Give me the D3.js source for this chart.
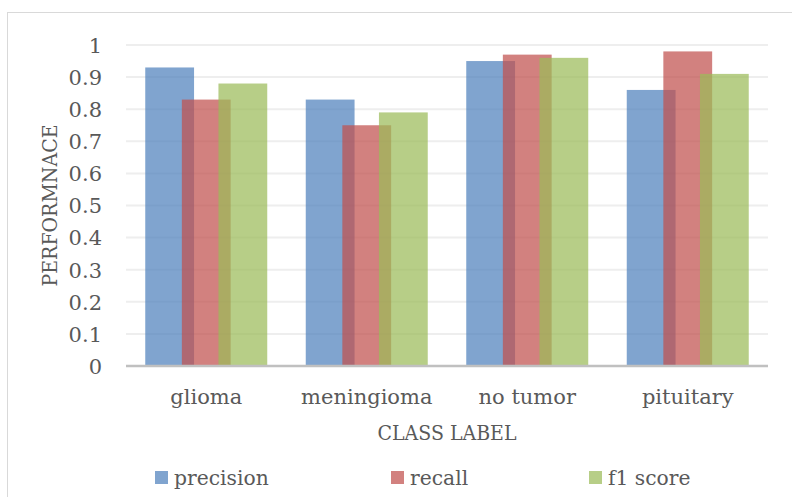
<!DOCTYPE html>
<html>
<head>
<meta charset="utf-8">
<script src="https://cdn.jsdelivr.net/npm/d3@7"></script>
<style>
  html, body { margin: 0; padding: 0; background: #fff; }
  svg { display: block; }
  text { font-family: "DejaVu Serif", serif; fill: #595959; }
</style>
</head>
<body>
<svg id="chart" width="792" height="497"></svg>
<script>
// Per-class scores of the brain tumour classifier
const categories = ["glioma", "meningioma", "no tumor", "pituitary"];
const seriesNames = ["precision", "recall", "f1 score"];
const precision = [0.93, 0.83, 0.95, 0.86];
const recall    = [0.83, 0.75, 0.97, 0.98];
const f1Score   = [0.88, 0.79, 0.96, 0.91];
const yTicks = [0, 0.1, 0.2, 0.3, 0.4, 0.5, 0.6, 0.7, 0.8, 0.9, 1];
const yTickLabels = ["0", "0.1", "0.2", "0.3", "0.4", "0.5", "0.6", "0.7", "0.8", "0.9", "1"];

const seriesValues = [precision, recall, f1Score];
const colors = ["#4F81BD", "#C0504D", "#9BBB59"];

const svg = d3.select("#chart");

// chart frame
svg.append("rect")
  .attr("x", 7.5).attr("y", 12.5)
  .attr("width", 900).attr("height", 600)
  .attr("fill", "none").attr("stroke", "#d9d9d9").attr("stroke-width", 1);

const plot = { left: 126, right: 768, top: 45, bottom: 366 };

const x = d3.scaleBand().domain(categories).range([plot.left, plot.right]).paddingInner(0).paddingOuter(0);
const y = d3.scaleLinear().domain([0, 1]).range([plot.bottom, plot.top]);

// horizontal gridlines
svg.append("g")
  .selectAll("line")
  .data(yTicks.filter(d => d > 0))
  .join("line")
  .attr("x1", plot.left).attr("x2", plot.right)
  .attr("y1", d => y(d)).attr("y2", d => y(d))
  .attr("stroke", "#eeeeee").attr("stroke-width", 2);

// y tick labels
const yAxis = d3.axisLeft(y).tickValues(yTicks).tickFormat((d, i) => yTickLabels[i]).tickSize(0).tickPadding(0);
const yg = svg.append("g").attr("transform", `translate(${plot.left - 24},0)`).call(yAxis);
yg.select(".domain").remove();
yg.selectAll("text")
  .attr("font-family", "DejaVu Serif").attr("font-size", 21).attr("fill", "#595959")
  .attr("dy", "0.35em");

// bars: each series is 2.5 bar widths wide in total, bars overlap by a quarter
const groupWidth = 122;
const barW = groupWidth / 2.5;
const step = barW * 0.75;
const barOffset = d3.scaleOrdinal().domain(seriesNames).range(seriesNames.map((s, i) => i * step));

seriesNames.forEach((name, si) => {
  svg.append("g")
    .selectAll("rect")
    .data(categories.map((c, ci) => ({ c, v: seriesValues[si][ci] })))
    .join("rect")
    .attr("x", d => x(d.c) + (x.bandwidth() - groupWidth) / 2 + barOffset(name))
    .attr("y", d => y(d.v))
    .attr("width", barW)
    .attr("height", d => y(0) - y(d.v))
    .attr("fill", colors[si])
    .attr("fill-opacity", 0.72);
});

// category axis
const xAxis = d3.axisBottom(x).tickSize(0).tickPadding(0);
const xg = svg.append("g").attr("transform", `translate(0,${plot.bottom})`).call(xAxis);
xg.select(".domain").attr("stroke", "#c0c0c0").attr("stroke-width", 2.5)
  .attr("d", `M${plot.left},0H${plot.right}`);
xg.selectAll("text")
  .attr("font-family", "DejaVu Serif").attr("font-size", 21).attr("fill", "#595959")
  .attr("dy", null).attr("y", 38);

// axis titles
svg.append("text")
  .attr("x", (plot.left + plot.right) / 2).attr("y", 440)
  .attr("text-anchor", "middle").attr("font-size", 21)
  .attr("textLength", 139).attr("lengthAdjust", "spacingAndGlyphs")
  .text("CLASS LABEL");

svg.append("text")
  .attr("transform", `translate(57,${(plot.top + plot.bottom) / 2}) rotate(-90)`)
  .attr("text-anchor", "middle").attr("font-size", 21)
  .attr("textLength", 162).attr("lengthAdjust", "spacingAndGlyphs")
  .text("PERFORMNACE");

// legend
const legendX = [155, 391, 589];
const legend = svg.append("g");
seriesNames.forEach((name, i) => {
  legend.append("rect")
    .attr("x", legendX[i]).attr("y", 471).attr("width", 13).attr("height", 13)
    .attr("fill", colors[i]).attr("fill-opacity", 0.72);
  legend.append("text")
    .attr("x", legendX[i] + 19).attr("y", 485)
    .attr("font-size", 20.3)
    .text(name);
});
</script>
</body>
</html>
